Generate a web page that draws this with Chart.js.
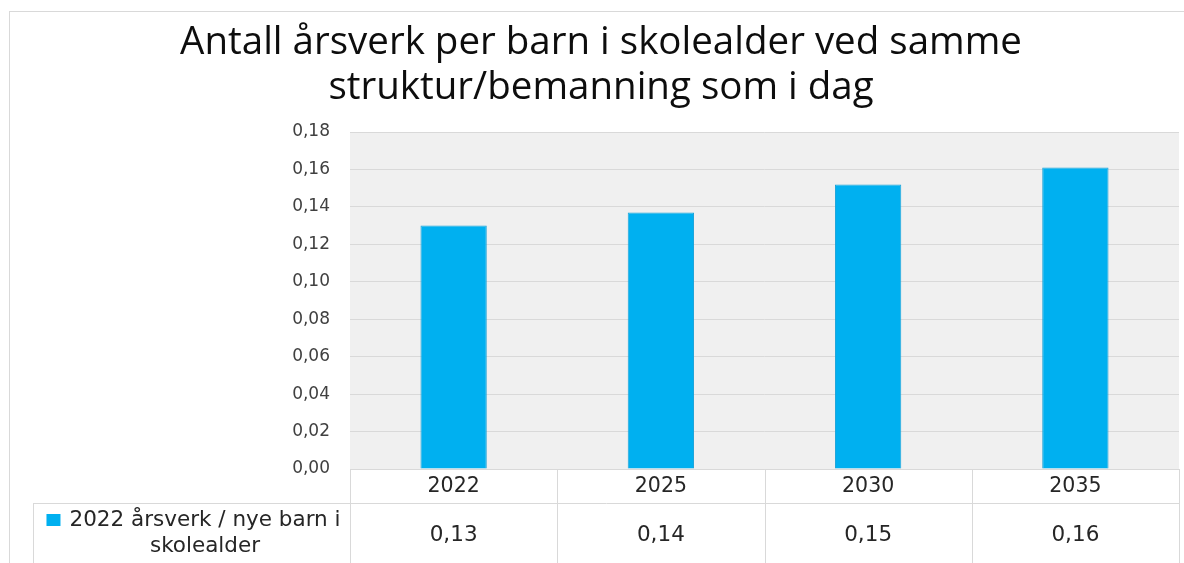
<!DOCTYPE html>
<html>
<head>
<meta charset="utf-8">
<script src="https://cdn.jsdelivr.net/npm/chart.js@4.4.1/dist/chart.umd.min.js"></script>
<style>
  html, body { margin: 0; padding: 0; background: #ffffff; }
  #wrap { position: relative; width: 1184px; height: 563px; }
</style>
</head>
<body>
<div id="wrap"><canvas id="c" width="1184" height="563"></canvas></div>
<script>
// ---- data ----
const titleLines = ["Antall årsverk per barn i skolealder ved samme", "struktur/bemanning som i dag"];
const categories = ["2022", "2025", "2030", "2035"];
const seriesName = ["2022 årsverk / nye barn i", "skolealder"];
const values = [0.130, 0.137, 0.152, 0.161];
const yTicks = [0, 0.02, 0.04, 0.06, 0.08, 0.10, 0.12, 0.14, 0.16, 0.18];

const fmt = v => v.toFixed(2).replace('.', ',');
const LINE = '#d9d9d9';
const TEXT = '#262626';
const BAR = '#00b0f0';

const tablePlugin = {
  id: 'tablePlugin',
  beforeDraw(chart) {
    const ctx = chart.ctx, a = chart.chartArea;
    ctx.save();
    ctx.strokeStyle = LINE; ctx.lineWidth = 1;
    ctx.strokeRect(9.5, 11.5, chart.width + 20, chart.height + 20);
    ctx.fillStyle = '#f0f0f0';
    ctx.fillRect(a.left, a.top, a.right - a.left, a.bottom - a.top);
    ctx.restore();
  },
  afterDraw(chart) {
    const ctx = chart.ctx, a = chart.chartArea, xs = chart.scales.x;
    const n = categories.length;
    const step = (xs.getPixelForValue(1) - xs.getPixelForValue(0));
    const bounds = [];
    for (let i = 0; i <= n; i++) bounds.push(Math.round(xs.getPixelForValue(0) - step / 2 + i * step) + 0.5);
    const row1 = a.bottom, row2 = a.bottom + 34, bottom = chart.height + 5;
    const legendLeft = 33.5;
    ctx.save();
    ctx.strokeStyle = LINE; ctx.lineWidth = 1;
    ctx.beginPath();
    ctx.moveTo(a.left, row1 + 0.5); ctx.lineTo(bounds[n], row1 + 0.5);
    ctx.moveTo(legendLeft, row2 + 0.5); ctx.lineTo(bounds[n], row2 + 0.5);
    ctx.moveTo(legendLeft, row2); ctx.lineTo(legendLeft, bottom);
    bounds.forEach(b => { ctx.moveTo(b, row1); ctx.lineTo(b, bottom); });
    ctx.stroke();

    // values row
    ctx.fillStyle = TEXT;
    ctx.font = '21.5px "DejaVu Sans"';
    ctx.textAlign = 'center'; ctx.textBaseline = 'middle';
    values.forEach((v, i) => ctx.fillText(fmt(v), xs.getPixelForValue(i), row2 + 32));

    // legend cell
    const cx = a.left - 145;
    ctx.font = '21.5px "DejaVu Sans"';
    ctx.textBaseline = 'alphabetic';
    ctx.fillText(seriesName[0], cx, row2 + 23);
    ctx.fillText(seriesName[1], cx, row2 + 49);
    const w0 = ctx.measureText(seriesName[0]).width;
    ctx.fillStyle = BAR;
    ctx.fillRect(cx - w0 / 2 - 23, row2 + 11, 14, 12);
    ctx.restore();
  }
};

new Chart(document.getElementById('c'), {
  type: 'bar',
  data: {
    labels: categories,
    datasets: [{
      label: seriesName.join(' '),
      data: values,
      backgroundColor: BAR,
      borderColor: '#1ba3d8',
      borderWidth: 1,
      categoryPercentage: 1.0,
      barPercentage: 0.32
    }]
  },
  options: {
    responsive: false,
    animation: false,
    layout: { padding: { left: 23, right: 5, top: 0, bottom: 0 } },
    plugins: {
      legend: { display: false },
      tooltip: { enabled: false },
      title: {
        display: true,
        text: titleLines,
        color: '#0d0d0d',
        font: { family: '"Open Sans"', size: 38.5, weight: 'normal', lineHeight: 45 / 38.5 },
        padding: { top: 21, bottom: 21 }
      }
    },
    scales: {
      x: {
        grid: { display: false, drawTicks: false },
        border: { display: false },
        ticks: { color: TEXT, font: { family: '"DejaVu Sans"', size: 20.5 }, padding: 5 },
        afterFit(s) { s.height = 94; }
      },
      y: {
        min: 0, max: 0.18,
        afterBuildTicks(s) { s.ticks = yTicks.map(v => ({ value: v })); },
        grid: { color: LINE, lineWidth: 1, drawTicks: false },
        border: { display: false },
        ticks: {
          color: '#404040',
          font: { family: '"DejaVu Sans"', size: 17 },
          padding: 20,
          callback: v => fmt(v)
        },
        afterFit(s) { s.width = 327; }
      }
    }
  },
  plugins: [tablePlugin]
});
</script>
</body>
</html>
